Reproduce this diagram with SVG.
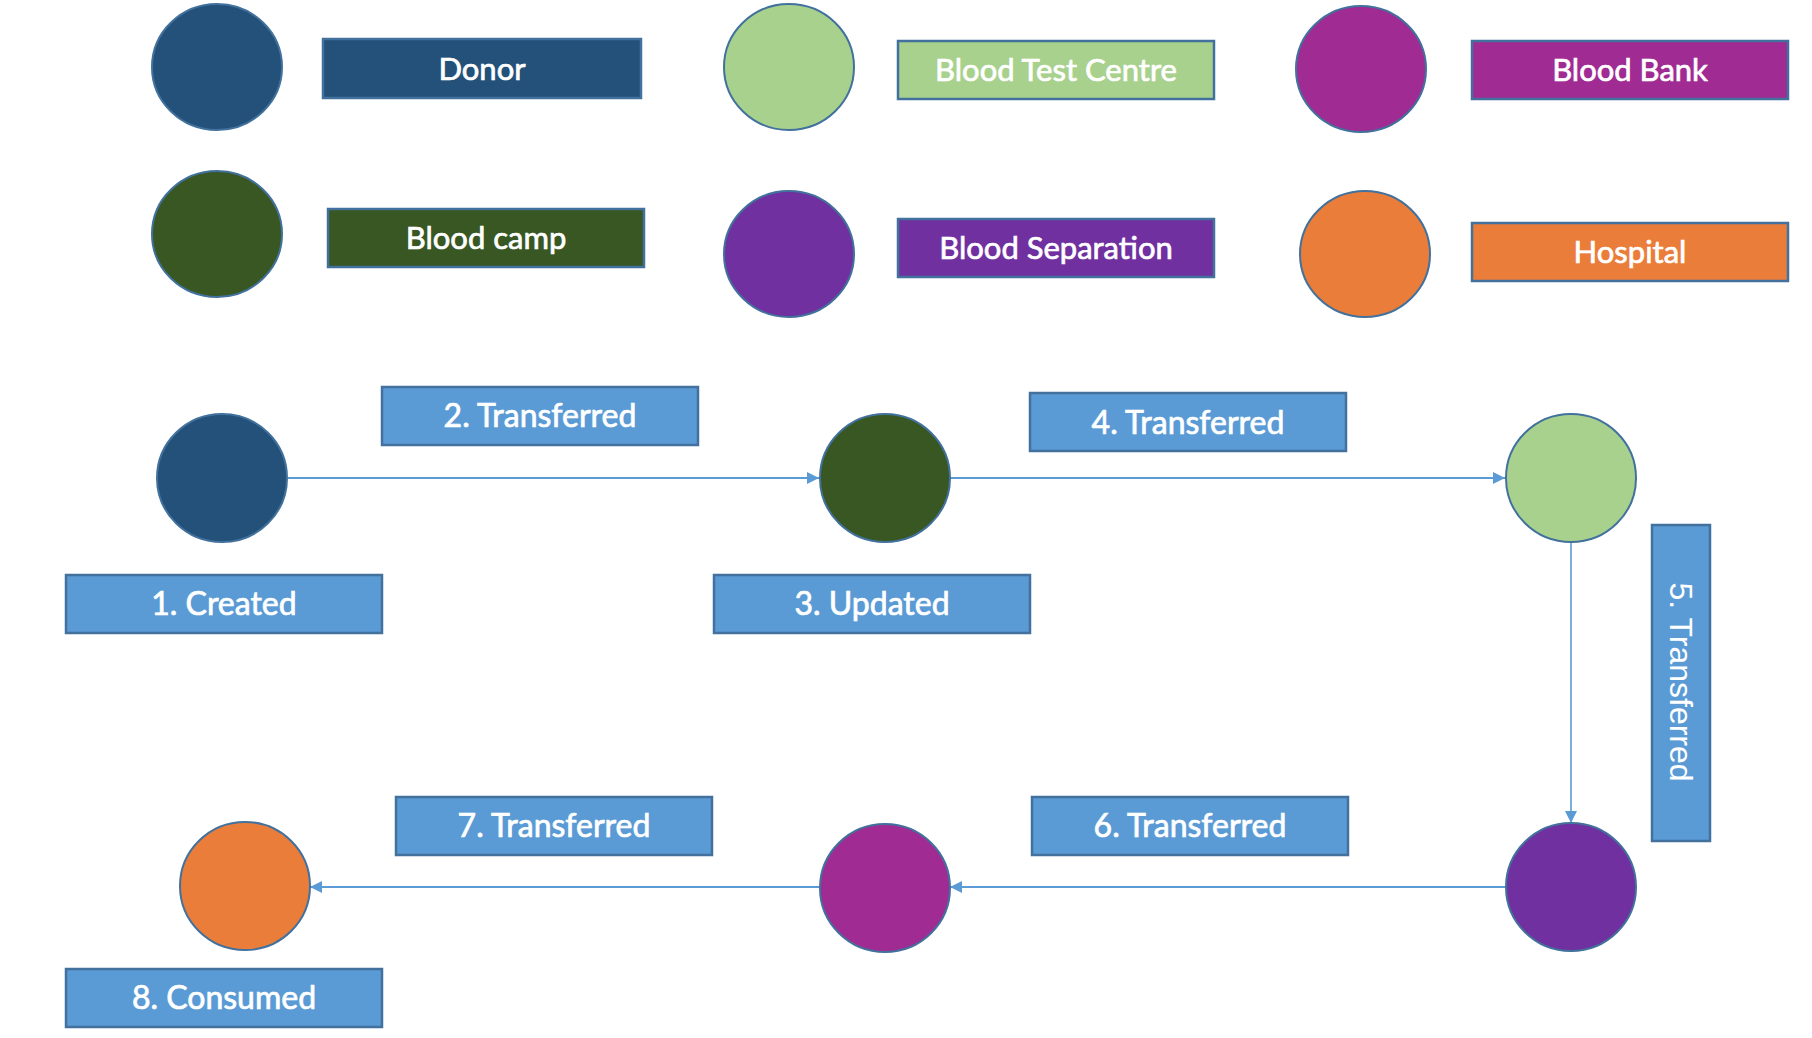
<svg xmlns="http://www.w3.org/2000/svg" width="1812" height="1038" viewBox="0 0 1812 1038">
  <style>
    .node { stroke: #41719C; stroke-width: 2; }
    .box { stroke: #41719C; stroke-width: 2.5; }
    .lab { fill: #5B9BD5; stroke: #41719C; stroke-width: 2.5; }
    .lt { font-family: Lato, "Open Sans", "Liberation Sans", sans-serif; font-size: 31px; fill: #ffffff; stroke: #ffffff; stroke-width: 0.7; text-anchor: middle; }
    .ft { font-family: Lato, "Open Sans", "Liberation Sans", sans-serif; font-size: 32px; fill: #ffffff; stroke: #ffffff; stroke-width: 0.7; text-anchor: middle; }
    .vt { font-family: "Liberation Sans", Arial, sans-serif; font-size: 32px; fill: #ffffff; text-anchor: middle; }
    .edge { stroke: #5B9BD5; stroke-width: 2; fill: none; }
    .donor { fill: #23517A; }
    .camp { fill: #385723; }
    .test { fill: #A9D18E; }
    .sep { fill: #7030A0; }
    .bank { fill: #A02B93; }
    .hosp { fill: #EB7D3A; }
  </style>
  <defs>
    <marker id="arrow" markerUnits="userSpaceOnUse" markerWidth="13" markerHeight="12" refX="12" refY="6" orient="auto">
      <path d="M0,0 L12,6 L0,12 Z" fill="#5B9BD5"/>
    </marker>
  </defs>
  <rect width="1812" height="1038" fill="#ffffff"/>

  <!-- Legend -->
  <g id="legend-donor">
    <ellipse class="node donor" cx="217" cy="67" rx="65" ry="63"/>
    <rect class="box donor" x="323" y="39" width="318" height="59"/>
    <text class="lt" x="482" y="80">Donor</text>
  </g>
  <g id="legend-blood-camp">
    <ellipse class="node camp" cx="217" cy="234" rx="65" ry="63"/>
    <rect class="box camp" x="328" y="209" width="316" height="58"/>
    <text class="lt" x="486" y="249">Blood camp</text>
  </g>
  <g id="legend-blood-test-centre">
    <ellipse class="node test" cx="789" cy="67" rx="65" ry="63"/>
    <rect class="box test" x="898" y="41" width="316" height="58"/>
    <text class="lt" x="1056" y="81">Blood Test Centre</text>
  </g>
  <g id="legend-blood-separation">
    <ellipse class="node sep" cx="789" cy="254" rx="65" ry="63"/>
    <rect class="box sep" x="898" y="219" width="316" height="58"/>
    <text class="lt" x="1056" y="259">Blood Separation</text>
  </g>
  <g id="legend-blood-bank">
    <ellipse class="node bank" cx="1361" cy="69" rx="65" ry="63"/>
    <rect class="box bank" x="1472" y="41" width="316" height="58"/>
    <text class="lt" x="1630" y="81">Blood Bank</text>
  </g>
  <g id="legend-hospital">
    <ellipse class="node hosp" cx="1365" cy="254" rx="65" ry="63"/>
    <rect class="box hosp" x="1472" y="223" width="316" height="58"/>
    <text class="lt" x="1630" y="263">Hospital</text>
  </g>

  <!-- Connectors -->
  <g id="connectors">
    <line class="edge" x1="288" y1="478" x2="819" y2="478" marker-end="url(#arrow)"/>
    <line class="edge" x1="950" y1="478" x2="1505" y2="478" marker-end="url(#arrow)"/>
    <line class="edge" x1="1571" y1="541" x2="1571" y2="823" marker-end="url(#arrow)" style="stroke-width:1.6"/>
    <line class="edge" x1="1505" y1="887" x2="950" y2="887" marker-end="url(#arrow)"/>
    <line class="edge" x1="820" y1="887" x2="310" y2="887" marker-end="url(#arrow)"/>
  </g>

  <!-- Flow nodes -->
  <g id="node-donor">
    <ellipse class="node donor" cx="222" cy="478" rx="65" ry="64"/>
  </g>
  <g id="node-blood-camp">
    <ellipse class="node camp" cx="885" cy="478" rx="65" ry="64"/>
  </g>
  <g id="node-blood-test-centre">
    <ellipse class="node test" cx="1571" cy="478" rx="65" ry="64"/>
  </g>
  <g id="node-blood-separation">
    <ellipse class="node sep" cx="1571" cy="887" rx="65" ry="64"/>
  </g>
  <g id="node-blood-bank">
    <ellipse class="node bank" cx="885" cy="888" rx="65" ry="64"/>
  </g>
  <g id="node-hospital">
    <ellipse class="node hosp" cx="245" cy="886" rx="65" ry="64"/>
  </g>

  <!-- Step labels -->
  <g id="label-1">
    <rect class="lab" x="66" y="575" width="316" height="58"/>
    <text class="ft" x="224" y="615">1. Created</text>
  </g>
  <g id="label-2">
    <rect class="lab" x="382" y="387" width="316" height="58"/>
    <text class="ft" x="540" y="427">2. Transferred</text>
  </g>
  <g id="label-3">
    <rect class="lab" x="714" y="575" width="316" height="58"/>
    <text class="ft" x="872" y="615">3. Updated</text>
  </g>
  <g id="label-4">
    <rect class="lab" x="1030" y="393" width="316" height="58"/>
    <text class="ft" x="1188" y="434">4. Transferred</text>
  </g>
  <g id="label-5">
    <rect class="lab" x="1652" y="525" width="58" height="316"/>
    <text class="vt" transform="translate(1681,682) rotate(90)" x="0" y="11">5. Transferred</text>
  </g>
  <g id="label-6">
    <rect class="lab" x="1032" y="797" width="316" height="58"/>
    <text class="ft" x="1190" y="837">6. Transferred</text>
  </g>
  <g id="label-7">
    <rect class="lab" x="396" y="797" width="316" height="58"/>
    <text class="ft" x="554" y="837">7. Transferred</text>
  </g>
  <g id="label-8">
    <rect class="lab" x="66" y="969" width="316" height="58"/>
    <text class="ft" x="224" y="1009">8. Consumed</text>
  </g>
</svg>
